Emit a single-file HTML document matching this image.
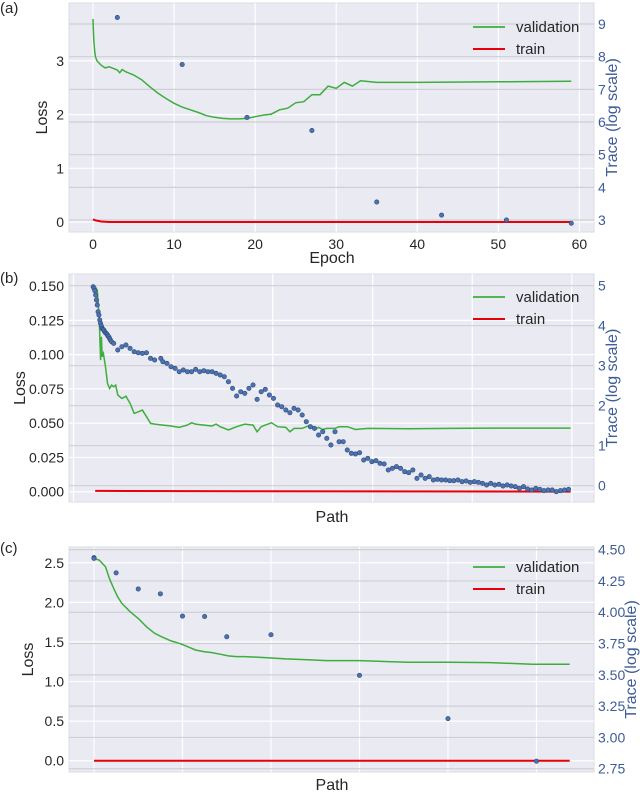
<!DOCTYPE html>
<html><head><meta charset="utf-8"><style>
html,body{margin:0;padding:0;background:#fff;}
svg{display:block;font-family:"Liberation Sans",sans-serif;}
</style></head><body>
<svg id="chart" width="640" height="792" viewBox="0 0 640 792" xmlns="http://www.w3.org/2000/svg"></svg>
<script>
// ---------- Panel (a) data ----------
const aValEpoch = [0,0.05,0.1,0.2,0.3,0.5,1,1.5,2,2.5,3,3.3,3.6,4,5,6,7,8,9,10,11,12,13,14,15,16,17,18,19,20,21,22,23,24,25,26,27,28,29,30,31,32,33,35,40,50,59];
const aValLoss  = [3.78,3.55,3.39,3.2,3.08,3.0,2.92,2.87,2.89,2.86,2.83,2.78,2.84,2.80,2.74,2.65,2.52,2.40,2.30,2.21,2.14,2.09,2.04,1.98,1.95,1.93,1.92,1.92,1.93,1.96,1.99,2.01,2.09,2.12,2.22,2.24,2.37,2.37,2.53,2.49,2.60,2.53,2.63,2.60,2.60,2.61,2.62];
const aTrainEpoch = [0,0.3,1,2,59];
const aTrainLoss  = [0.05,0.03,0.01,0,0];
const aTraceEpoch = [3,11,19,27,35,43,51,59];
const aTrace      = [9.2,7.76,6.14,5.74,3.55,3.15,3.0,2.9];
const aXTicks = [0,10,20,30,40,50,60];
const aYTicks = [0,1,2,3];
const aRTicks = [3,4,5,6,7,8,9];

// ---------- Panel (b) data (x = path position) ----------
const bValX = [235,240,245,248,250,252,255,260,265,270,275,280,285,290,300,310,320,330,340,350,360,370,380,400,420,440,460,470,480,500,520,530,540,560,580,600,620,630,640,650,665,680,700,710,720,740,760,770,780,790,800,820,830,850,870,900,1000,1100,1200,1395];
const bValLoss = [0.1494,0.147,0.1252,0.096,0.113,0.0984,0.1008,0.0911,0.079,0.0753,0.0778,0.0765,0.0778,0.0705,0.068,0.0697,0.0644,0.0571,0.0583,0.0595,0.0547,0.0498,0.0493,0.0486,0.0479,0.0469,0.0486,0.0503,0.0493,0.0486,0.0479,0.0493,0.0474,0.045,0.0474,0.0493,0.0486,0.0437,0.0474,0.0486,0.0503,0.0474,0.0469,0.0437,0.0462,0.0462,0.0486,0.045,0.0469,0.0454,0.0462,0.0462,0.0474,0.0474,0.0454,0.0462,0.0459,0.0462,0.0464,0.0464];
const bTrainX = [235,600,1395];
const bTrainLoss = [0.0006,0.0004,0.0001];
const bTraceX = [230,232,234,236,238,240,242,244,246,248,250,252,254,256,258,260,262,264,266,268,270,272,275,280,290,300,310,320,330,340,350,360,370,380,395,400,410,420,430,440,450,460,470,480,490,500,510,520,530,540,550,560,570,580,590,600,610,620,630,640,650,660,670,680,690,700,710,720,730,740,750,760,770,780,790,800,810,820,830,840,850,860,870,880,890,900,910,920,930,940,950,960,970,980,990,1000,1010,1020,1030,1040,1050,1060,1070,1080,1090,1100,1110,1120,1130,1140,1150,1160,1170,1180,1190,1200,1210,1220,1230,1240,1250,1260,1270,1280,1290,1300,1310,1320,1330,1340,1350,1360,1370,1380,1390];
const bTrace = [4.975,4.933,4.875,4.767,4.642,4.517,4.35,4.267,4.142,4.058,3.992,3.933,3.908,3.892,3.85,3.825,3.808,3.783,3.742,3.725,3.683,3.642,3.6,3.558,3.392,3.475,3.517,3.433,3.35,3.325,3.308,3.325,3.183,3.142,3.183,3.1,3.058,2.975,2.933,2.85,2.892,2.85,2.85,2.908,2.85,2.875,2.85,2.85,2.808,2.767,2.725,2.6,2.433,2.242,2.35,2.308,2.433,2.517,2.158,2.35,2.408,2.267,2.183,2.017,1.975,1.892,1.825,1.933,1.892,1.767,1.6,1.475,1.433,1.267,1.35,1.183,1.017,1.35,1.1,1.1,0.892,0.808,0.792,0.825,0.642,0.683,0.6,0.625,0.558,0.542,0.392,0.433,0.475,0.433,0.35,0.325,0.392,0.183,0.267,0.183,0.225,0.142,0.158,0.142,0.142,0.125,0.125,0.142,0.1,0.117,0.083,0.1,0.083,0.058,0.017,0.058,0.017,0.033,-0.008,0.017,-0.008,-0.025,-0.067,-0.025,-0.083,-0.108,-0.067,-0.092,-0.125,-0.108,-0.108,-0.15,-0.125,-0.108,-0.092];
const bXGrid = [182,425,668,912,1155,1398];
const bYTicks = [0,0.025,0.05,0.075,0.1,0.125,0.15];
const bYLabels = ["0.000","0.025","0.050","0.075","0.100","0.125","0.150"];
const bRTicks = [0,1,2,3,4,5];

// ---------- Panel (c) data (x = path step) ----------
const cValX = [0,0.24,0.52,0.70,0.89,1.07,1.26,1.63,2.0,2.37,2.74,3.11,3.48,3.85,4.22,4.59,4.96,5.33,5.70,6.07,6.44,6.81,7.74,8.67,9.78,10.5,12.0,13.3,14.2,16.1,17.9,19.4,19.8,21.5];
const cValLoss = [2.555,2.534,2.45,2.30,2.176,2.07,1.987,1.882,1.798,1.693,1.609,1.559,1.513,1.483,1.441,1.399,1.378,1.366,1.345,1.324,1.315,1.315,1.303,1.286,1.273,1.265,1.265,1.252,1.244,1.244,1.239,1.223,1.218,1.218];
const cTrainX = [0,21.5];
const cTrainLoss = [0,0];
const cTraceX = [0,0,1,2,3,4,5,6,8,12,16,20];
const cTrace = [4.436,4.43,4.314,4.186,4.147,3.969,3.966,3.804,3.82,3.496,3.15,2.81];
const cXGrid = [0,4,8,12,16,20];
const cYTicks = [0,0.5,1.0,1.5,2.0,2.5];
const cYLabels = ["0.0","0.5","1.0","1.5","2.0","2.5"];
const cRTicks = [2.75,3.0,3.25,3.5,3.75,4.0,4.25,4.5];
const cRLabels = ["2.75","3.00","3.25","3.50","3.75","4.00","4.25","4.50"];

const NS = "http://www.w3.org/2000/svg";
const svg = document.getElementById('chart');
function mk(tag, attrs, parent, text){
  const e = document.createElementNS(NS, tag);
  for (const k in attrs) e.setAttribute(k, attrs[k]);
  if (text !== undefined) e.textContent = text;
  (parent || svg).appendChild(e);
  return e;
}
function lin(d0,d1,p0,p1){ return v => p0 + (v-d0)/(d1-d0)*(p1-p0); }

function panel(o){
  const g = mk('g', {});
  
  
  const X = lin(o.xd[0], o.xd[1], 69, 594);
  const Y = lin(o.yd[0], o.yd[1], o.bottom, o.top);
  const R = lin(o.rd[0], o.rd[1], o.bottom, o.top);
  const bg = mk('rect', {x:69, y:o.top, width:525, height:o.bottom-o.top, fill:'#eaeaf2', stroke:'#dcdce4', 'stroke-width':1}, g);
  
  
  o.xgrid.forEach(v => {
    const l = mk('line', {x1:X(v), x2:X(v), y1:o.top, y2:o.bottom, stroke:'#fff', 'stroke-width':1.2}, g);
    
    
  });
  o.yticks.forEach(v => {
    const l = mk('line', {x1:69, x2:594, y1:Y(v), y2:Y(v), stroke:'#fff', 'stroke-width':1.2}, g);
    
    
  });
  o.rticks.forEach(v => {
    const l = mk('line', {x1:69, x2:594, y1:R(v), y2:R(v), stroke:'#cfcfd6', 'stroke-width':1.2}, g);
    
    
  });
  const tp = o.trainX.map((x,i)=>X(x).toFixed(1)+','+Y(o.trainY[i]).toFixed(1)).join(' ');
  const tl = mk('polyline', {points:tp, fill:'none', stroke:'#e8000b', 'stroke-width':2}, g);
  
  
  const vp = o.valX.map((x,i)=>X(x).toFixed(1)+','+Y(o.valY[i]).toFixed(1)).join(' ');
  const vl = mk('polyline', {points:vp, fill:'none', stroke:'#3cae3c', 'stroke-width':1.5}, g);
  
  
  o.trX.forEach((x,i) => {
    const c = mk('circle', {cx:X(x), cy:R(o.trY[i]), r:2.2, fill:'#4c72b0', stroke:'#2d4a7a', 'stroke-width':0.6}, g);
    
    
  });
  o.yticks.forEach((v,i) => {
    const t = mk('text', {x:64, y:Y(v)+5, 'text-anchor':'end', 'font-size':14, fill:'#262626'}, g, o.ylabels[i]);
    
    
  });
  o.rticks.forEach((v,i) => {
    const t = mk('text', {x:598, y:R(v)+5, 'font-size':14, fill:'#3e5c96'}, g, o.rlabels[i]);
    
    
  });
  if (o.xlabels) o.xgrid.forEach((v,i) => {
    const t = mk('text', {x:X(v), y:o.bottom+17, 'text-anchor':'middle', 'font-size':14, fill:'#262626'}, g, o.xlabels[i]);
    
    
  });
  const xt = mk('text', {x:332, y:o.xtitleY, 'text-anchor':'middle', 'font-size':16, fill:'#262626'}, g, o.xtitle);
  
  
  const cy = (o.top+o.bottom)/2;
  const yt = mk('text', {x:0, y:0, transform:`translate(${o.ytitleX},${cy}) rotate(-90)`, 'text-anchor':'middle', 'font-size':16, fill:'#262626'}, g, 'Loss');
  
  
  const rt = mk('text', {x:0, y:0, transform:`translate(${o.rtitleX},${cy}) rotate(-90)`, 'text-anchor':'middle', 'font-size':16, fill:'#3e5c96'}, g, 'Trace (log scale)');
  
  
  const lg = mk('g', {}, g);
  
  
  const ly = o.top + o.legendDy;
  mk('line', {x1:473, x2:505, y1:ly, y2:ly, stroke:'#3cae3c', 'stroke-width':1.8}, lg);
  const e1 = mk('text', {x:516, y:ly+5, 'font-size':15, fill:'#262626'}, lg, 'validation');
  
  
  mk('line', {x1:473, x2:505, y1:ly+22, y2:ly+22, stroke:'#e8000b', 'stroke-width':2}, lg);
  const e2 = mk('text', {x:516, y:ly+27, 'font-size':15, fill:'#262626'}, lg, 'train');
  
  
  const pl = mk('text', {x:0, y:o.labelY, 'font-size':15, fill:'#262626'}, g, o.label);
  
  
}

panel({name:'panel-a', label:'(a)', labelY:13, top:3, bottom:232,
  xd:[-2.96,61.8], yd:[-0.186,4.078], rd:[2.633,9.643],
  xgrid:aXTicks, xlabels:aXTicks.map(String),
  yticks:aYTicks, ylabels:aYTicks.map(String),
  rticks:aRTicks, rlabels:aRTicks.map(String),
  valX:aValEpoch, valY:aValLoss, trainX:aTrainEpoch, trainY:aTrainLoss,
  trX:aTraceEpoch, trY:aTrace, xtitle:'Epoch', xtitleY:263, ytitleX:47, rtitleX:617, legendDy:24});

panel({name:'panel-b', label:'(b)', labelY:283, top:274, bottom:502,
  xd:[171,1452], yd:[-0.0075,0.1588], rd:[-0.408,5.293],
  xgrid:bXGrid, xlabels:null,
  yticks:bYTicks, ylabels:bYLabels,
  rticks:bRTicks, rlabels:bRTicks.map(String),
  valX:bValX, valY:bValLoss, trainX:bTrainX, trainY:bTrainLoss,
  trX:bTraceX, trY:bTrace, xtitle:'Path', xtitleY:522, ytitleX:25, rtitleX:617, legendDy:23});

panel({name:'panel-c', label:'(c)', labelY:553, top:547, bottom:772,
  xd:[-1.13,22.6], yd:[-0.143,2.70], rd:[2.724,4.521],
  xgrid:cXGrid, xlabels:null,
  yticks:cYTicks, ylabels:cYLabels,
  rticks:cRTicks, rlabels:cRLabels,
  valX:cValX, valY:cValLoss, trainX:cTrainX, trainY:cTrainLoss,
  trX:cTraceX, trY:cTrace, xtitle:'Path', xtitleY:790, ytitleX:33, rtitleX:636, legendDy:20});
</script>
</body></html>
